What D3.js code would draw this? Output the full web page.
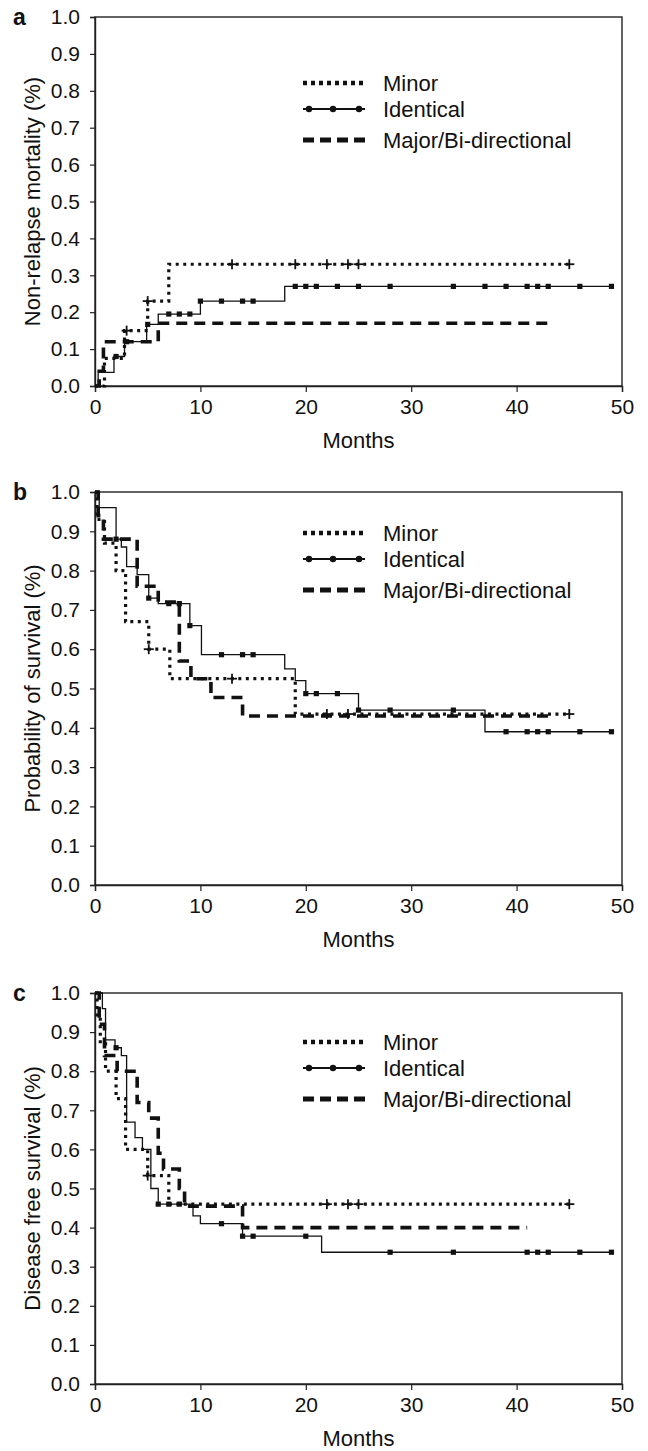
<!DOCTYPE html>
<html>
<head>
<meta charset="utf-8">
<script src="https://cdn.jsdelivr.net/npm/d3@7"></script>
<style>
  body { margin: 0; background: #fff; }
  svg text { font-family: "Liberation Sans", Arial, sans-serif; fill: #111; }
</style>
</head>
<body>
<svg id="chart"></svg>
<script>
// Tick labels and legend names
const xTicks = [0, 10, 20, 30, 40, 50];
const yTicks = [0, 0.1, 0.2, 0.3, 0.4, 0.5, 0.6, 0.7, 0.8, 0.9, 1.0];
const seriesNames = ['Minor', 'Identical', 'Major/Bi-directional'];

// a - non-relapse mortality (step times in months, values)
const nrmMinorT = [0, 0.9, 2.8, 5, 7, 45];
const nrmMinorV = [0, 0.075, 0.15, 0.23, 0.33, 0.33];
const nrmMinorCens = [3, 5, 13, 19, 22, 24, 25, 45];
const nrmIdentT = [0, 0.3, 1.8, 2.8, 4.9, 6, 10, 18, 49];
const nrmIdentV = [0, 0.037, 0.08, 0.12, 0.167, 0.195, 0.23, 0.27, 0.27];
const nrmIdentMarks = [2, 3, 5, 7, 8, 9, 10, 12, 14, 15, 19, 20, 21, 23, 25, 28, 34, 37, 39, 41, 42, 43, 46, 49];
const nrmMajorT = [0, 0.4, 0.8, 6, 43];
const nrmMajorV = [0, 0.04, 0.12, 0.17, 0.17];

// b - overall survival
const osMinorT = [0, 0.2, 0.9, 2.0, 2.9, 5.1, 7.1, 19, 45];
const osMinorV = [1, 0.93, 0.87, 0.80, 0.67, 0.60, 0.525, 0.435, 0.435];
const osMinorCens = [5.1, 13, 22, 24, 45];
const osIdentT = [0, 0.4, 2.0, 2.5, 3.0, 4.0, 5.1, 6.0, 9.0, 10.1, 18, 19, 20, 25, 37, 49];
const osIdentV = [1, 0.96, 0.88, 0.86, 0.81, 0.79, 0.73, 0.716, 0.66, 0.586, 0.55, 0.52, 0.487, 0.445, 0.39, 0.39];
const osIdentMarks = [2, 5.1, 7, 8, 9, 12, 14, 15, 20, 21, 23, 25, 28, 34, 39, 41, 42, 43, 46, 49];
const osMajorT = [0, 0.3, 0.8, 4.0, 6.0, 8.0, 9.1, 11, 14, 43.3];
const osMajorV = [1, 0.94, 0.88, 0.76, 0.72, 0.57, 0.525, 0.477, 0.43, 0.43];

// c - disease free survival
const dfsMinorT = [0, 0.2, 0.5, 1.0, 2.0, 2.9, 5.0, 7.0, 45];
const dfsMinorV = [1, 0.94, 0.87, 0.80, 0.73, 0.60, 0.533, 0.46, 0.46];
const dfsMinorCens = [5, 22, 24, 25, 45];
const dfsIdentT = [0, 0.7, 1.0, 1.9, 2.5, 3.0, 3.8, 4.5, 5.3, 6.0, 9.3, 10, 14, 21.5, 49];
const dfsIdentV = [1, 0.96, 0.88, 0.86, 0.84, 0.67, 0.63, 0.60, 0.50, 0.46, 0.43, 0.41, 0.378, 0.337, 0.337];
const dfsIdentMarks = [2, 6, 7, 8, 12, 14, 15, 20, 28, 34, 41, 42, 43, 46, 49];
const dfsMajorT = [0, 0.4, 0.9, 2.1, 4.0, 5.1, 6.0, 6.5, 8.0, 8.5, 14, 41];
const dfsMajorV = [1, 0.92, 0.84, 0.80, 0.72, 0.68, 0.59, 0.55, 0.50, 0.455, 0.40, 0.40];

// layout
const W = 648, H = 1451;
const plotLeft = 95, plotRight = 622;
const panels = [
  { letter: 'a', title: 'Non-relapse mortality (%)', top: 17, bottom: 386, legendTop: 83,
    minor: [nrmMinorT, nrmMinorV, nrmMinorCens], ident: [nrmIdentT, nrmIdentV, nrmIdentMarks], major: [nrmMajorT, nrmMajorV] },
  { letter: 'b', title: 'Probability of survival (%)', top: 492, bottom: 885, legendTop: 533,
    minor: [osMinorT, osMinorV, osMinorCens], ident: [osIdentT, osIdentV, osIdentMarks], major: [osMajorT, osMajorV] },
  { letter: 'c', title: 'Disease free survival (%)', top: 993, bottom: 1384, legendTop: 1042,
    minor: [dfsMinorT, dfsMinorV, dfsMinorCens], ident: [dfsIdentT, dfsIdentV, dfsIdentMarks], major: [dfsMajorT, dfsMajorV] }
];

const styles = {
  minor: { width: 3.2, dash: '3,4.5' },
  ident: { width: 1.3, dash: null },
  major: { width: 3.6, dash: '11,7' }
};
const ink = '#111';
const tickFont = 21, labelFont = 22;

const svg = d3.select('#chart').attr('width', W).attr('height', H);

// value of a step function at time t
function stepAt(ts, vs, t) {
  let v = vs[0];
  for (let i = 0; i < ts.length; i++) if (ts[i] <= t) v = vs[i];
  return v;
}

function drawPanel(p) {
  const x = d3.scaleLinear().domain([0, 50]).range([plotLeft, plotRight]);
  const y = d3.scaleLinear().domain([0, 1]).range([p.bottom, p.top]);
  const g = svg.append('g');

  // frame
  g.append('rect')
    .attr('x', plotLeft).attr('y', p.top)
    .attr('width', plotRight - plotLeft).attr('height', p.bottom - p.top)
    .attr('fill', 'none').attr('stroke', '#222').attr('stroke-width', 1.4);

  const yAxis = g.append('g')
    .attr('transform', `translate(${plotLeft},0)`)
    .call(d3.axisLeft(y).tickValues(yTicks).tickFormat(d3.format('.1f')).tickSize(5).tickPadding(10));
  const xAxis = g.append('g')
    .attr('transform', `translate(0,${p.bottom})`)
    .call(d3.axisBottom(x).tickValues(xTicks).tickSize(6).tickPadding(7));
  [xAxis, yAxis].forEach(a => {
    a.select('.domain').attr('stroke', '#222').attr('stroke-width', 1.4);
    a.selectAll('.tick line').attr('stroke', '#222').attr('stroke-width', 1.2);
    a.selectAll('text').attr('font-size', tickFont).attr('fill', ink)
      .attr('font-family', '"Liberation Sans", Arial, sans-serif');
  });

  // titles
  g.append('text')
    .attr('x', (plotLeft + plotRight) / 2).attr('y', p.bottom + 62)
    .attr('text-anchor', 'middle').attr('font-size', labelFont).text('Months');
  g.append('text')
    .attr('transform', `translate(40,${(p.top + p.bottom) / 2}) rotate(-90)`)
    .attr('text-anchor', 'middle').attr('font-size', labelFont).text(p.title);
  g.append('text')
    .attr('x', 13).attr('y', p.top + 8)
    .attr('font-size', 23).attr('font-weight', 'bold').text(p.letter);

  const line = d3.line().curve(d3.curveStepAfter).x(d => x(d[0])).y(d => y(d[1]));
  const addCurve = (ts, vs, st) => g.append('path')
    .datum(d3.zip(ts, vs))
    .attr('d', line)
    .attr('fill', 'none').attr('stroke', ink)
    .attr('stroke-width', st.width)
    .attr('stroke-dasharray', st.dash);

  addCurve(p.major[0], p.major[1], styles.major);
  addCurve(p.ident[0], p.ident[1], styles.ident);
  addCurve(p.minor[0], p.minor[1], styles.minor);

  // identical markers
  g.selectAll('.imark').data(p.ident[2]).enter().append('rect')
    .attr('x', d => x(d) - 2.6).attr('y', d => y(stepAt(p.ident[0], p.ident[1], d)) - 2.6)
    .attr('width', 5.2).attr('height', 5.2).attr('fill', ink);

  // minor censor crosses
  const cross = g.selectAll('.cens').data(p.minor[2]).enter().append('g')
    .attr('transform', d => `translate(${x(d)},${y(stepAt(p.minor[0], p.minor[1], d))})`);
  cross.append('line').attr('x1', -5).attr('x2', 5).attr('stroke', ink).attr('stroke-width', 1.8);
  cross.append('line').attr('y1', -5).attr('y2', 5).attr('stroke', ink).attr('stroke-width', 1.8);

  // legend
  const keys = ['minor', 'ident', 'major'];
  const gaps = [0, 26, 57];
  keys.forEach((k, i) => {
    const ly = p.legendTop + gaps[i];
    const lx0 = 303, lx1 = 365;
    g.append('line')
      .attr('x1', lx0).attr('x2', lx1).attr('y1', ly).attr('y2', ly)
      .attr('stroke', ink).attr('stroke-width', k === 'ident' ? 2.2 : styles[k].width + 1.2)
      .attr('stroke-dasharray', k === 'minor' ? '4,4' : k === 'major' ? '11,6' : null);
    if (k === 'ident') {
      g.selectAll(null).data([lx0 + 6, lx0 + 30, lx0 + 56]).enter().append('circle')
        .attr('cx', d => d).attr('cy', ly).attr('r', 3.2).attr('fill', ink);
    }
    g.append('text')
      .attr('x', 383).attr('y', ly).attr('dy', '0.35em')
      .attr('font-size', labelFont).text(seriesNames[i]);
  });
}

panels.forEach(drawPanel);
</script>
</body>
</html>
